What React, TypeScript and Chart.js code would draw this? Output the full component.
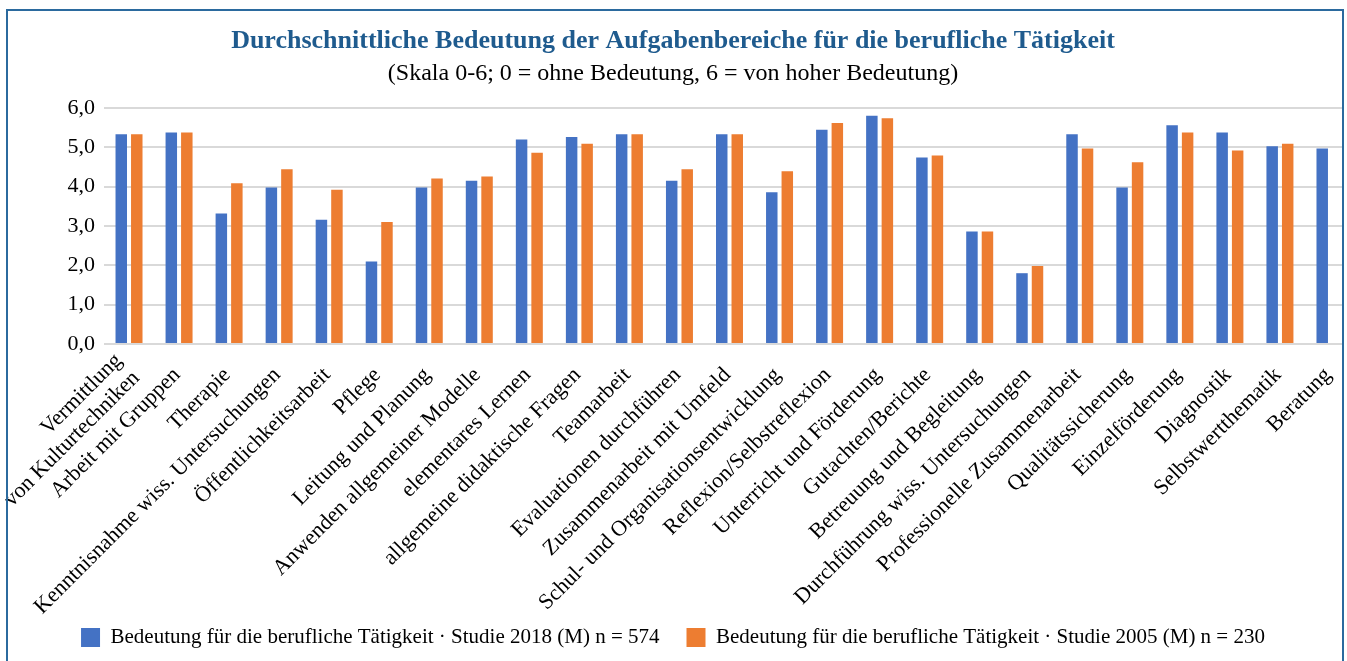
import React, { useEffect, useRef } from "react";
import { Chart, registerables } from "chart.js";

Chart.register(...registerables);

const categories: (string | string[])[] = [
  ["Vermittlung", "von Kulturtechniken"],
  "Arbeit mit Gruppen",
  "Therapie",
  "Kenntnisnahme wiss. Untersuchungen",
  "Öffentlichkeitsarbeit",
  "Pflege",
  "Leitung und Planung",
  "Anwenden allgemeiner Modelle",
  "elementares Lernen",
  "allgemeine didaktische Fragen",
  "Teamarbeit",
  "Evaluationen durchführen",
  "Zusammenarbeit mit Umfeld",
  "Schul- und Organisationsentwicklung",
  "Reflexion/Selbstreflexion",
  "Unterricht und Förderung",
  "Gutachten/Berichte",
  "Betreuung und Begleitung",
  "Durchführung wiss. Untersuchungen",
  "Professionelle Zusammenarbeit",
  "Qualitätssicherung",
  "Einzelförderung",
  "Diagnostik",
  "Selbstwertthematik",
  "Beratung",
];

const values2018: number[] = [
  5.33, 5.38, 3.32, 3.98, 3.16, 2.1, 3.98, 4.15, 5.2, 5.26, 5.33, 4.15, 5.33,
  3.86, 5.45, 5.8, 4.74, 2.86, 1.8, 5.33, 3.98, 5.56, 5.38, 5.03, 4.97,
];

const values2005: (number | null)[] = [
  5.33, 5.38, 4.09, 4.44, 3.92, 3.1, 4.21, 4.26, 4.86, 5.09, 5.33, 4.44, 5.33,
  4.39, 5.62, 5.74, 4.79, 2.86, 1.98, 4.97, 4.62, 5.38, 4.92, 5.09, null,
];

const seriesNames: string[] = [
  "Bedeutung für die berufliche Tätigkeit · Studie 2018 (M) n = 574",
  "Bedeutung für die berufliche Tätigkeit · Studie 2005 (M) n = 230",
];

const titleText = "Durchschnittliche Bedeutung der Aufgabenbereiche für die berufliche Tätigkeit";
const subtitleText = "(Skala 0-6; 0 = ohne Bedeutung, 6 = von hoher Bedeutung)";

const yMin = 0;
const yMax = 6;
const yStep = 1;

const FONT = "'Liberation Serif', 'Times New Roman', serif";
const BLUE = "#4472C4";
const ORANGE = "#ED7D31";

export default function App() {
  const canvasRef = useRef<HTMLCanvasElement | null>(null);

  useEffect(() => {
    if (!canvasRef.current) return;
    const chart = new Chart(canvasRef.current, {
      type: "bar",
      data: {
        labels: categories,
        datasets: [
          {
            label: seriesNames[0],
            data: values2018,
            backgroundColor: BLUE,
            categoryPercentage: 0.62,
            barPercentage: 0.74,
          },
          {
            label: seriesNames[1],
            data: values2005,
            backgroundColor: ORANGE,
            categoryPercentage: 0.62,
            barPercentage: 0.74,
          },
        ],
      },
      options: {
        responsive: true,
        maintainAspectRatio: false,
        animation: false,
        layout: { padding: { left: -9, right: 25, top: 0, bottom: 3 } },
        plugins: {
          title: {
            display: true,
            text: titleText,
            color: "#1f5b8e",
            font: { family: FONT, size: 26, weight: "bold" },
            padding: { top: 26, bottom: 0 },
          },
          subtitle: {
            display: true,
            text: subtitleText,
            color: "#000000",
            font: { family: FONT, size: 24 },
            padding: { top: 2, bottom: 20 },
          },
          legend: {
            position: "bottom",
            labels: {
              boxWidth: 19,
              boxHeight: 19,
              padding: 27,
              color: "#000000",
              font: { family: FONT, size: 21 },
            },
          },
          tooltip: { enabled: false },
        },
        scales: {
          x: {
            grid: { display: false, drawTicks: false },
            border: { display: false },
            ticks: {
              color: "#000000",
              font: { family: FONT, size: 22, lineHeight: 1.12 },
              minRotation: 45,
              maxRotation: 45,
              autoSkip: false,
              padding: 19,
              labelOffset: -2,
            },
            afterFit: (scale: any) => {
              scale.height = 256;
              scale.paddingLeft = 0;
              scale.paddingRight = 0;
              scale._computeLabelArea = () => undefined;
              if (!scale.__multiLinePatched) {
                const orig = scale._computeLabelItems;
                scale._computeLabelItems = function (ca: any) {
                  const items = orig.call(this, ca);
                  items.forEach((it: any) => {
                    if (Array.isArray(it.label) && it.label.length > 1) {
                      const lh = it.font && it.font.lineHeight ? it.font.lineHeight : 24.6;
                      it.textOffset -= lh * (it.label.length - 1) * 0.65;
                      const tr = it.options && it.options.translation;
                      if (tr) {
                        tr[0] += 3;
                        tr[1] -= 3;
                      }
                    }
                  });
                  return items;
                };
                scale.__multiLinePatched = true;
              }
            },
          },
          y: {
            min: yMin,
            max: yMax,
            grid: { color: "#d9d9d9", lineWidth: 2, drawTicks: false },
            border: { display: false },
            ticks: {
              stepSize: yStep,
              color: "#000000",
              font: { family: FONT, size: 22 },
              padding: 9,
              callback: (v: any) => Number(v).toFixed(1).replace(".", ","),
            },
            afterFit: (scale: any) => {
              scale.width = 113;
            },
          },
        },
      },
    });
    return () => chart.destroy();
  }, []);

  return (
    <div
      style={{
        position: "fixed",
        left: 0,
        top: 0,
        width: 1347,
        height: 661,
        overflow: "hidden",
        background: "#ffffff",
      }}
    >
      <div style={{ position: "absolute", left: 0, top: 0, width: 1380, height: 661 }}>
        <canvas ref={canvasRef} />
      </div>
      <div
        style={{
          position: "absolute",
          left: 1344,
          top: 0,
          width: 10,
          height: 661,
          background: "#ffffff",
        }}
      />
      <div
        style={{
          position: "absolute",
          left: 6,
          top: 9,
          width: 1338,
          height: 1000,
          boxSizing: "border-box",
          border: "2px solid #2b6a9e",
          pointerEvents: "none",
        }}
      />
    </div>
  );
}
